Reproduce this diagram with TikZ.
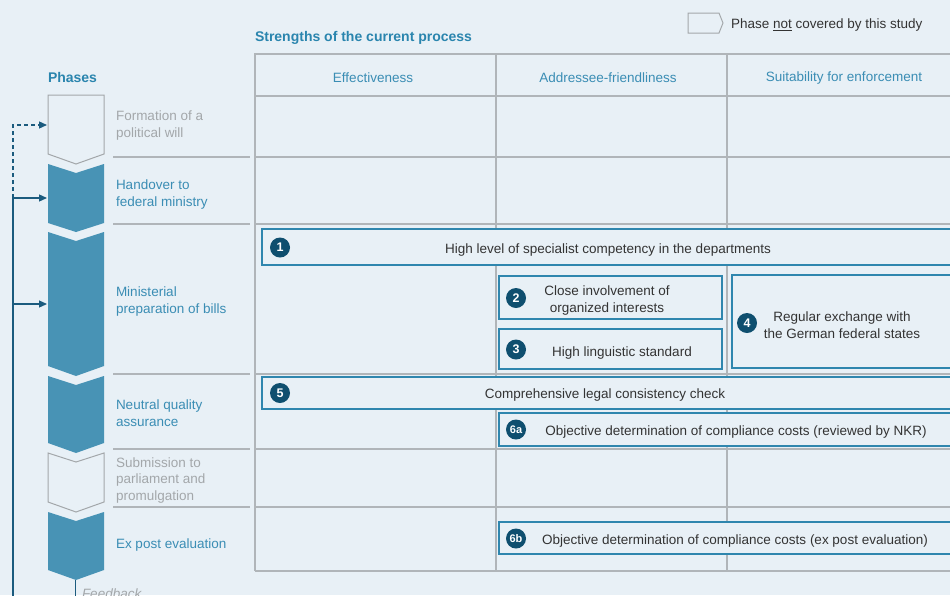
\documentclass[tikz,border=0pt]{standalone}
\usepackage{fontspec}
\setmainfont{Liberation Sans}
\usetikzlibrary{arrows.meta}
\definecolor{bg}{HTML}{E8F0F6}
\definecolor{grid}{HTML}{B0B5B9}
\definecolor{phase}{HTML}{4893B5}
\definecolor{phtext}{HTML}{3A8DB4}
\definecolor{headtext}{HTML}{2A85AE}
\definecolor{graytext}{HTML}{A3A7AA}
\definecolor{dark}{HTML}{1B5B7E}
\definecolor{badgecol}{HTML}{0F4F6F}
\definecolor{boxline}{HTML}{2F86AE}
\definecolor{bodytext}{HTML}{333333}
\begin{document}
\begin{tikzpicture}[x=1pt,y=-1pt,
  every node/.style={inner sep=0pt,outer sep=0pt},
  txt/.style={font=\fontsize{13.5}{16.8}\selectfont,yshift=-1.8pt},
  phlabel/.style={txt,text=phtext,anchor=west,align=left},
  phgray/.style={txt,text=graytext,anchor=west,align=left},
  colhead/.style={txt,text=phtext},
  bold/.style={font=\fontsize{14}{17}\selectfont\bfseries,text=headtext,anchor=west,yshift=-1.8pt},
  gridline/.style={draw=grid,line width=1.3pt},
  sepline/.style={draw=grid,line width=1.1pt},
  phasefill/.style={fill=phase},
  phaseout/.style={draw=graytext,line width=1pt,fill=bg},
  sbox/.style={draw=boxline,fill=bg,line width=1.3pt},
  stext/.style={txt,text=bodytext,align=center},
  badge/.style={circle,fill=badgecol,minimum size=20pt,text=white,font=\fontsize{12.5}{12.5}\selectfont\bfseries},
  badgesm/.style={badge,font=\fontsize{11}{11}\selectfont\bfseries},
  fb/.style={draw=dark,line width=1.3pt},
  fbarrow/.style={fb,-{Triangle[length=8pt,width=7pt]}},
]
\useasboundingbox (0,0) rectangle (950,595);
\fill[bg] (0,0) rectangle (950,595);
\clip (0,0) rectangle (950,595);

% headings
\node[bold] (strengths) at (255,36) {Strengths of the current process};
\node[bold] (phases) at (48,76) {Phases};

% legend
\draw[draw=graytext,line width=1pt] (688,13) -- (719,13) -- (723,23) -- (719,33) -- (688,33) -- cycle;
\node[txt,text=bodytext,anchor=west] (legend) at (731,23) {Phase \underline{not} covered by this study};

% table grid
\foreach \y in {96,157,224,374,449,507,571} \draw[gridline] (255,\y) -- (975,\y);
\draw[gridline] (975,54) -- (255,54) -- (255,571);
\draw[gridline] (496,54) -- (496,571);
\draw[gridline] (727,54) -- (727,571);

% column headers
\node[colhead] (h1) at (373,76) {Effectiveness};
\node[colhead] (h2) at (608,76) {Addressee-friendliness};
\node[colhead] (h3) at (844,76) {Suitability for enforcement};

% left separators
\foreach \y in {157,224,374,449,507} \draw[sepline] (113,\y) -- (250,\y);

% chevrons
\draw[phaseout] (48,95) -- (104,95) -- (104,154) -- (76,164) -- (48,154) -- cycle;
\fill[phasefill] (48,164) -- (76,173) -- (104,164) -- (104,223) -- (76,232) -- (48,223) -- cycle;
\fill[phasefill] (48,232) -- (76,241) -- (104,232) -- (104,366) -- (76,376) -- (48,366) -- cycle;
\fill[phasefill] (48,376) -- (76,385) -- (104,376) -- (104,443) -- (76,453) -- (48,443) -- cycle;
\draw[phaseout] (48,453) -- (76,462) -- (104,453) -- (104,502) -- (76,512) -- (48,502) -- cycle;
\fill[phasefill] (48,512) -- (76,521) -- (104,512) -- (104,570) -- (76,580) -- (48,570) -- cycle;

% phase labels
\node[phgray] (p1) at (116,124) {Formation of a\\political will};
\node[phlabel] (p2) at (116,192.5) {Handover to\\federal ministry};
\node[phlabel] (p3) at (116,299.5) {Ministerial\\preparation of bills};
\node[phlabel] (p4) at (116,411.5) {Neutral quality\\assurance};
\node[phgray] (p5) at (116,478.5) {Submission to\\parliament and\\promulgation};
\node[phlabel] (p6) at (116,543) {Ex post evaluation};

% feedback connectors
\coordinate (c1) at (47,125);
\coordinate (c2) at (47,198);
\coordinate (c3) at (47,304);
\coordinate (j1) at (13,125);
\coordinate (j2) at (13,198);
\coordinate (j3) at (13,304);
\coordinate (jb) at (13,600);
\coordinate (pb) at (75,580);
\coordinate (pe) at (75,600);
\draw[fbarrow,dash pattern=on 4pt off 3pt] (j2) -- (j1) -- (c1);
\draw[fb] (jb) -- (j2);
\draw[fbarrow] (j2) -- (c2);
\draw[fbarrow] (j3) -- (c3);
\draw[fb,line width=1pt] (pb) -- (pe);
\node[text=graytext,anchor=base west,font=\fontsize{13.5}{16}\selectfont\itshape] (feedback) at (82,598) {Feedback};

% strength boxes
\draw[sbox] (262,229) rectangle (975,265);
\node[badge] (b1) at (280,247.5) {1};
\node[stext] (t1) at (608,248) {High level of specialist competency in the departments};

\draw[sbox] (499,276) rectangle (722,319);
\node[badge] (b2) at (516,298) {2};
\node[stext] (t2) at (607,298.5) {Close involvement of\\organized interests};

\draw[sbox] (499,329) rectangle (722,369);
\node[badge] (b3) at (516,349.5) {3};
\node[stext] (t3) at (622,351) {High linguistic standard};

\draw[sbox] (732,275) rectangle (975,368);
\node[badge] (b4) at (747,323) {4};
\node[stext] (t4) at (842,323.5) {Regular exchange with\\the German federal states};

\draw[sbox] (262,377) rectangle (975,409);
\node[badge] (b5) at (280,393) {5};
\node[stext] (t5) at (605,393) {Comprehensive legal consistency check};

\draw[sbox] (499,413) rectangle (975,446);
\node[badgesm] (b6a) at (516,429.5) {6a};
\node[stext] (t6a) at (736,430) {Objective determination of compliance costs (reviewed by NKR)};

\draw[sbox] (499,522) rectangle (975,554);
\node[badgesm] (b6b) at (516,538.5) {6b};
\node[stext] (t6b) at (735,539) {Objective determination of compliance costs (ex post evaluation)};
\end{tikzpicture}
\end{document}
